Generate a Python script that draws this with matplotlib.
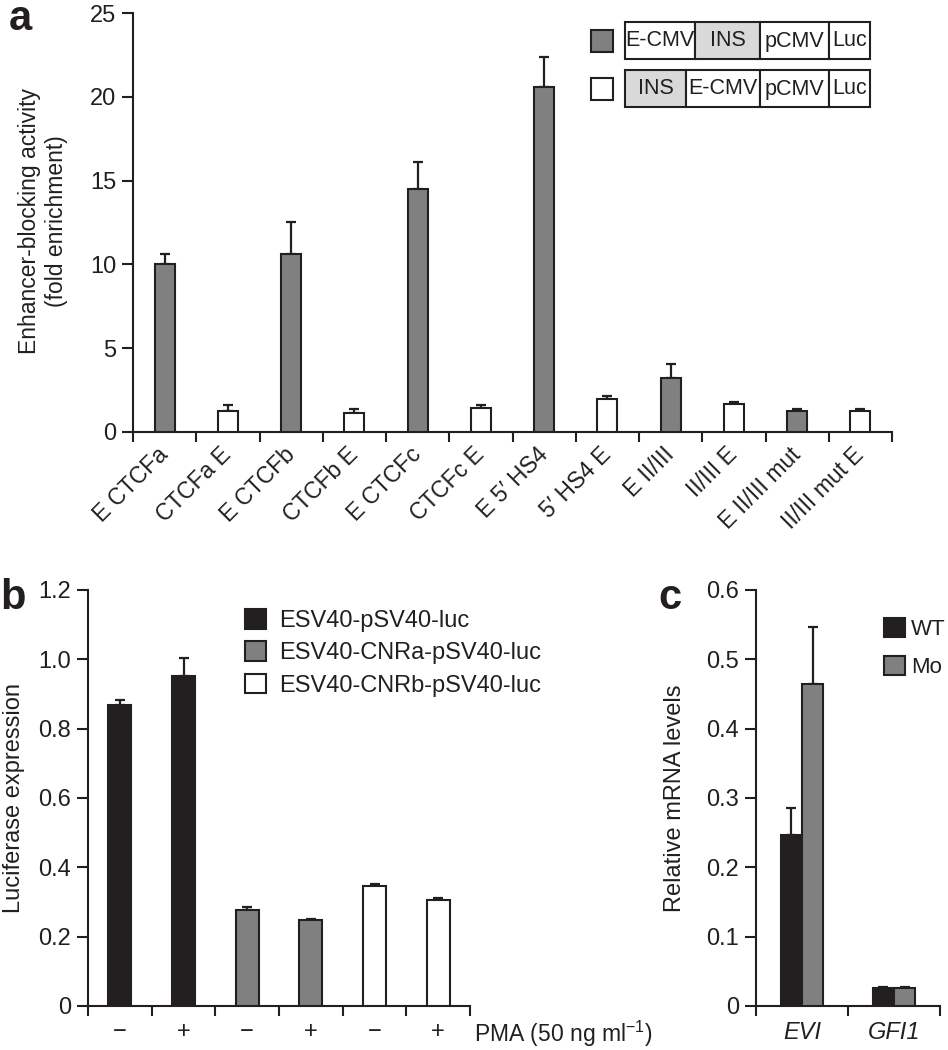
"""Three-panel bar figure: enhancer-blocking (a), luciferase (b), mRNA (c)."""

import matplotlib
matplotlib.use("Agg")
import matplotlib.pyplot as plt
import numpy as np
from matplotlib.patches import Rectangle
from matplotlib.transforms import Affine2D

plt.rcParams["font.family"] = ["Liberation Sans", "DejaVu Sans"]
plt.rcParams["mathtext.fontset"] = "custom"
plt.rcParams["mathtext.rm"] = "Liberation Sans"
plt.rcParams["mathtext.default"] = "regular"

INK = "#231f20"
GRAY = "#808080"
LIGHT = "#d9d9d9"
W, H = 948, 1050

# ---- panel a data
a_labels = ["E CTCFa", "CTCFa E", "E CTCFb", "CTCFb E", "E CTCFc", "CTCFc E",
            "E 5\u2032 HS4", "5\u2032 HS4 E", "E II/III", "II/III E",
            "E II/III mut", "II/III mut E"]
a_values = [10.0, 1.27, 10.6, 1.13, 14.5, 1.43, 20.6, 1.96, 3.25, 1.70, 1.23, 1.27]
a_errors = [0.62, 0.35, 1.9, 0.23, 1.6, 0.19, 1.8, 0.21, 0.8, 0.09, 0.13, 0.11]
a_colors = [GRAY, "white"] * 6
a_yticks = [0, 5, 10, 15, 20, 25]
a_rows = [["E-CMV", "INS", "pCMV", "Luc"], ["INS", "E-CMV", "pCMV", "Luc"]]
a_row_colors = [GRAY, "white"]

# ---- panel b data
b_ticklabels = ["\u2212", "+", "\u2212", "+", "\u2212", "+"]
b_values = [0.868, 0.951, 0.276, 0.247, 0.346, 0.305]
b_errors = [0.015, 0.053, 0.010, 0.004, 0.006, 0.007]
b_series = ["ESV40-pSV40-luc", "ESV40-CNRa-pSV40-luc", "ESV40-CNRb-pSV40-luc"]
b_series_colors = [INK, GRAY, "white"]
b_yticks = [0, 0.2, 0.4, 0.6, 0.8, 1.0, 1.2]
b_yticklabels = ["0", "0.2", "0.4", "0.6", "0.8", "1.0", "1.2"]

# ---- panel c data
c_genes = ["EVI", "GFI1"]
c_wt = [0.246, 0.026]
c_wt_err = [0.040, 0.002]
c_mo = [0.465, 0.026]
c_mo_err = [0.082, 0.002]
c_yticks = [0, 0.1, 0.2, 0.3, 0.4, 0.5, 0.6]
c_yticklabels = ["0", "0.1", "0.2", "0.3", "0.4", "0.5", "0.6"]


def box(l, t, r, b):
    return [l / W, 1 - b / H, (r - l) / W, (b - t) / H]


def style(ax):
    for s in ("top", "right"):
        ax.spines[s].set_visible(False)
    for s in ("left", "bottom"):
        ax.spines[s].set_linewidth(1.5)
        ax.spines[s].set_color(INK)
    ax.tick_params(axis="y", direction="out", length=8, width=1.5,
                   labelsize=17, pad=4, colors=INK)
    ax.tick_params(axis="x", which="major", length=0, labelsize=17, colors=INK)
    ax.tick_params(axis="x", which="minor", direction="out", length=7,
                   width=1.5, color=INK)


fig = plt.figure(figsize=(W / 100, H / 100), dpi=100)
px = Affine2D().scale(1 / W, -1 / H).translate(0, 1) + fig.transFigure
bar_kw = dict(edgecolor=INK, linewidth=1.5, zorder=3)
err_kw = dict(fmt="none", ecolor=INK, elinewidth=1.6, capsize=3.5,
              capthick=1.6, zorder=2)

# ---------------- panel a
ax = fig.add_axes(box(133, 13, 892, 432))
style(ax)
xa = np.arange(len(a_values)) + 0.5
ax.bar(xa, a_values, width=0.32, color=a_colors, **bar_kw)
ax.errorbar(xa, a_values, yerr=[np.zeros(len(a_errors)), a_errors], **err_kw)
ax.set_xlim(0, len(a_values))
ax.set_ylim(0, 25)
ax.set_yticks(a_yticks)
ax.set_xticks(np.arange(len(a_values) + 1), minor=True)
ax.set_xticks(xa)
ax.set_xticklabels(a_labels, rotation=45, ha="right", va="center",
                   rotation_mode="anchor", fontsize=16.5)
ax.tick_params(axis="x", which="major", pad=14)

# construct legend
row_tops = [22, 70]
row_widths = [[70, 65, 69, 41], [61, 74, 69, 41]]
for r, (names, widths) in enumerate(zip(a_rows, row_widths)):
    top = row_tops[r]
    fig.add_artist(Rectangle((591, top + 8), 22, 22, facecolor=a_row_colors[r],
                             edgecolor=INK, linewidth=1.5, transform=px))
    x0 = 625
    for name, w in zip(names, widths):
        fc = LIGHT if name == "INS" else "white"
        fig.add_artist(Rectangle((x0, top), w, 37, facecolor=fc, edgecolor=INK,
                                 linewidth=1.5, transform=px))
        fig.text(x0 + w / 2, top + 19, name, transform=px, ha="center",
                 va="center", fontsize=15.5, color=INK)
        x0 += w

fig.text(43, 221, "Enhancer-blocking activity\n(fold enrichment)", transform=px,
         rotation=90, ha="center", va="center", fontsize=16.5, color=INK,
         linespacing=1.2)
fig.text(9, -1, "a", transform=px, ha="left", va="top", fontsize=30,
         fontweight="bold", color=INK)

# ---------------- panel b
ax = fig.add_axes(box(88, 590, 470, 1006))
style(ax)
xb = np.arange(len(b_values)) + 0.5
b_colors = [c for c in b_series_colors for _ in range(2)]
ax.bar(xb, b_values, width=0.36, color=b_colors, **bar_kw)
ax.errorbar(xb, b_values, yerr=[np.zeros(len(b_errors)), b_errors], **err_kw)
ax.set_xlim(0, len(b_values))
ax.set_ylim(0, 1.2)
ax.set_yticks(b_yticks)
ax.set_yticklabels(b_yticklabels)
ax.set_xticks(np.arange(len(b_values) + 1), minor=True)
ax.set_xticks(xb)
ax.set_xticklabels(b_ticklabels)
ax.tick_params(axis="x", which="major", pad=11)
handles = [Rectangle((0, 0), 1, 1, facecolor=c, edgecolor=INK, linewidth=1.5)
           for c in b_series_colors]
fig.legend(handles, b_series, loc="upper left", bbox_to_anchor=(245, 609),
           bbox_transform=px, frameon=False, fontsize=17, handlelength=0.9,
           handleheight=0.9, handletextpad=0.55, labelspacing=0.4,
           borderpad=0, borderaxespad=0, labelcolor=INK)
fig.text(474, 1034, r"PMA (50 ng ml$^{-1}$)", transform=px, ha="left",
         va="center", fontsize=16.5, color=INK)
fig.text(14, 798, "Luciferase expression", transform=px, rotation=90,
         ha="center", va="center", fontsize=17, color=INK)
fig.text(0, 578, "b", transform=px, ha="left", va="top", fontsize=30,
         fontweight="bold", color=INK)

# ---------------- panel c
ax = fig.add_axes(box(756, 590, 940, 1006))
style(ax)
xc = np.arange(len(c_genes)) + 0.5
bw = 0.23
ax.bar(xc - bw / 2, c_wt, width=bw, color=INK, label="WT", **bar_kw)
ax.bar(xc + bw / 2, c_mo, width=bw, color=GRAY, label="Mo", **bar_kw)
ax.errorbar(xc - bw / 2, c_wt, yerr=[np.zeros(2), c_wt_err], **err_kw)
ax.errorbar(xc + bw / 2, c_mo, yerr=[np.zeros(2), c_mo_err], **err_kw)
ax.set_xlim(0, len(c_genes))
ax.set_ylim(0, 0.6)
ax.set_yticks(c_yticks)
ax.set_yticklabels(c_yticklabels)
ax.set_xticks(np.arange(len(c_genes) + 1), minor=True)
ax.set_xticks(xc)
ax.set_xticklabels(c_genes, fontstyle="italic")
ax.tick_params(axis="x", which="major", pad=11)
fig.legend(*ax.get_legend_handles_labels(), loc="upper left",
           bbox_to_anchor=(884, 618), bbox_transform=px, frameon=False,
           fontsize=16, handlelength=0.95, handleheight=0.95,
           handletextpad=0.25, labelspacing=0.7, borderpad=0,
           borderaxespad=0, labelcolor=INK)
fig.text(675, 798, "Relative mRNA levels", transform=px, rotation=90,
         ha="center", va="center", fontsize=17, color=INK)
fig.text(658, 578, "c", transform=px, ha="left", va="top", fontsize=30,
         fontweight="bold", color=INK)

fig.savefig("out.png", dpi=100, facecolor="white")
